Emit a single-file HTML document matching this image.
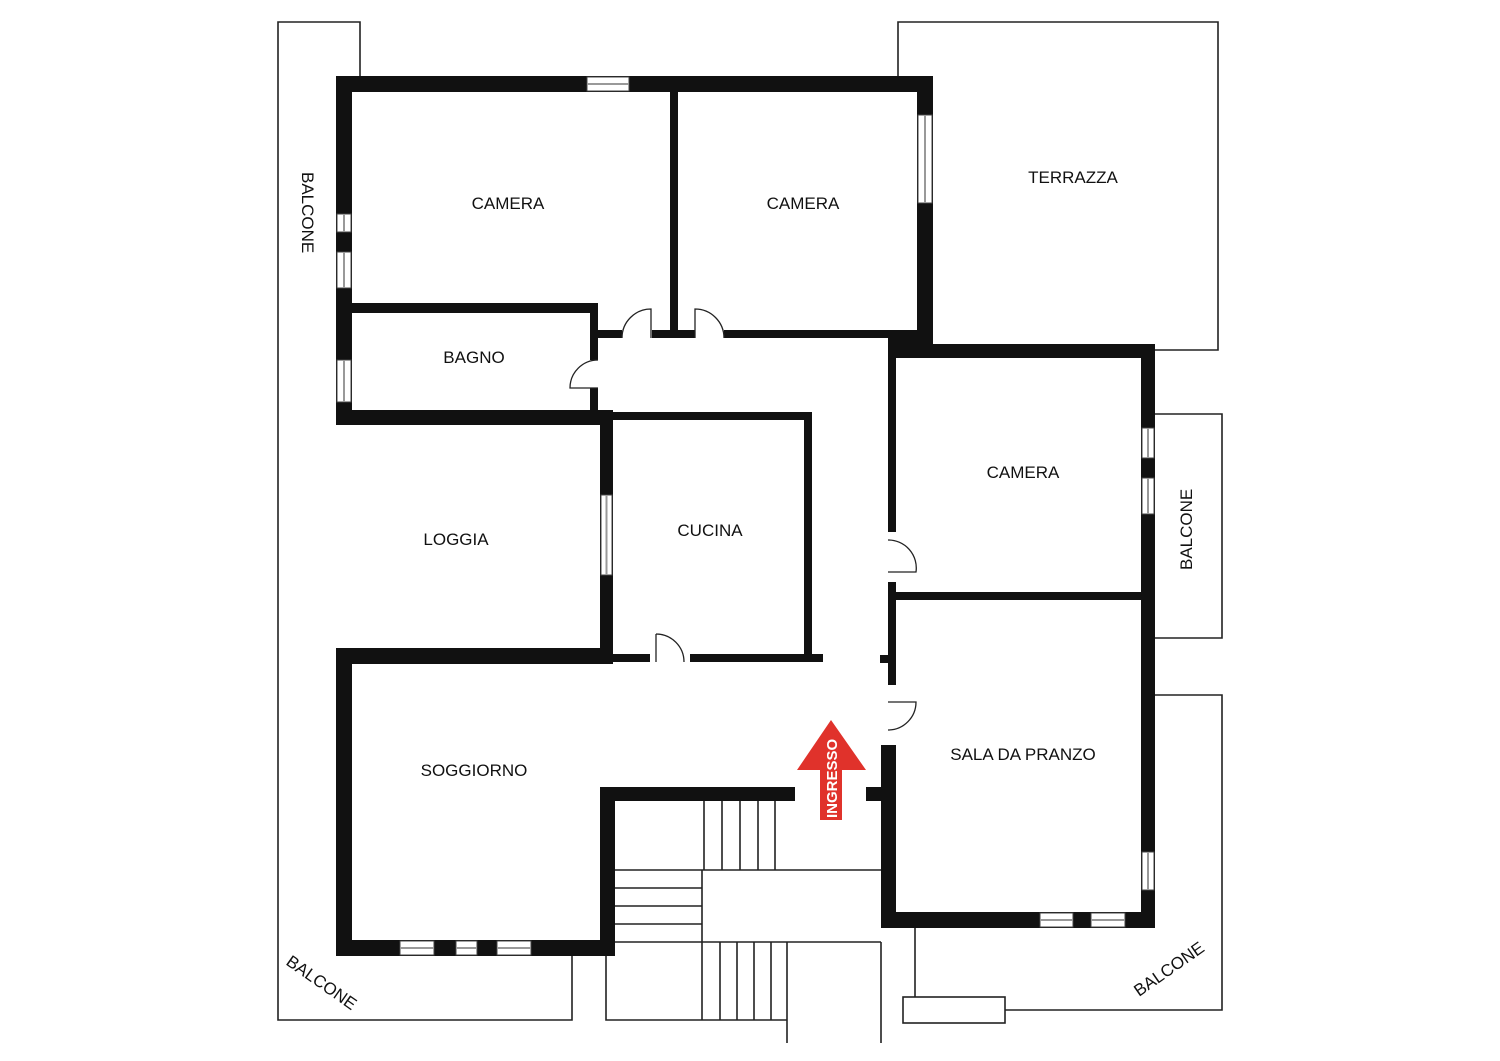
<!DOCTYPE html>
<html><head><meta charset="utf-8"><style>
html,body{margin:0;padding:0;background:#fff;}
svg{display:block}
text{font-family:"Liberation Sans",sans-serif;font-size:17px;fill:#111;}
</style></head><body>
<svg width="1500" height="1061" viewBox="0 0 1500 1061" xmlns="http://www.w3.org/2000/svg">
<rect width="1500" height="1061" fill="#fff"/>
<!-- thin outlines: balconies, terrace, stairs -->
<g fill="none" stroke="#222" stroke-width="1.6">
<polyline points="360,76 360,22 278,22 278,1020 572,1020 572,956"/>
<polyline points="898,76 898,22 1218,22 1218,350 1155,350"/>
<polyline points="1155,414 1222,414 1222,638 1155,638"/>
<polyline points="1155,695 1222,695 1222,1010 1005,1010"/>
<rect x="903" y="997" width="102" height="26"/>
<line x1="915" y1="928" x2="915" y2="997"/>
<!-- stairs -->
<line x1="704" y1="801" x2="704" y2="870"/><line x1="722" y1="801" x2="722" y2="870"/>
<line x1="740" y1="801" x2="740" y2="870"/><line x1="758" y1="801" x2="758" y2="870"/>
<line x1="775" y1="801" x2="775" y2="870"/>
<line x1="615" y1="870" x2="881" y2="870"/>
<line x1="615" y1="888" x2="702" y2="888"/><line x1="615" y1="906" x2="702" y2="906"/>
<line x1="615" y1="924" x2="702" y2="924"/><line x1="615" y1="942" x2="881" y2="942"/>
<line x1="702" y1="870" x2="702" y2="1020"/>
<line x1="720" y1="942" x2="720" y2="1020"/><line x1="737" y1="942" x2="737" y2="1020"/>
<line x1="754" y1="942" x2="754" y2="1020"/><line x1="771" y1="942" x2="771" y2="1020"/>
<line x1="787" y1="942" x2="787" y2="1043"/>
<line x1="881" y1="942" x2="881" y2="1043"/>
<polyline points="606,956 606,1020 787,1020"/>
</g>
<!-- walls -->
<g fill="#111">
<rect x="336" y="76" width="597" height="16"/>
<rect x="336" y="76" width="16" height="349"/>
<rect x="917" y="76" width="16" height="282"/>
<rect x="670" y="92" width="8" height="246"/>
<rect x="352" y="303" width="246" height="10"/>
<rect x="590" y="303" width="8" height="57"/>
<rect x="590" y="388" width="8" height="30"/>
<rect x="336" y="410" width="277" height="15"/>
<rect x="598" y="330" width="24" height="8"/>
<rect x="652" y="330" width="43" height="8"/>
<rect x="724" y="330" width="164" height="8"/>
<rect x="888" y="330" width="45" height="28"/>
<rect x="888" y="344" width="267" height="14"/>
<rect x="1141" y="344" width="14" height="584"/>
<rect x="888" y="338" width="8" height="194"/>
<rect x="888" y="582" width="8" height="103"/>
<rect x="896" y="592" width="245" height="8"/>
<rect x="880" y="655" width="10" height="8"/>
<rect x="881" y="745" width="15" height="183"/>
<rect x="866" y="787" width="16" height="14"/>
<rect x="881" y="912" width="274" height="16"/>
<rect x="598" y="412" width="214" height="8"/>
<rect x="600" y="412" width="13" height="250"/>
<rect x="804" y="412" width="8" height="250"/>
<rect x="598" y="654" width="52" height="8"/>
<rect x="690" y="654" width="133" height="8"/>
<rect x="336" y="648" width="277" height="16"/>
<rect x="336" y="648" width="16" height="308"/>
<rect x="336" y="940" width="279" height="16"/>
<rect x="600" y="787" width="15" height="169"/>
<rect x="600" y="787" width="195" height="14"/>
</g>
<!-- windows -->
<g fill="#fff" stroke="#444" stroke-width="1">
<rect x="587" y="77" width="42" height="14"/><line x1="587" y1="84" x2="629" y2="84" stroke="#999" stroke-width="2"/>
<rect x="918" y="115" width="14" height="88"/><line x1="925" y1="115" x2="925" y2="203" stroke="#999" stroke-width="2"/>
<rect x="337" y="214" width="14" height="18"/><line x1="344" y1="214" x2="344" y2="232" stroke="#999" stroke-width="2"/>
<rect x="337" y="252" width="14" height="36"/><line x1="344" y1="252" x2="344" y2="288" stroke="#999" stroke-width="2"/>
<rect x="337" y="360" width="14" height="42"/><line x1="344" y1="360" x2="344" y2="402" stroke="#999" stroke-width="2"/>
<rect x="601" y="495" width="11" height="80"/><line x1="606.5" y1="495" x2="606.5" y2="575" stroke="#999" stroke-width="2"/>
<rect x="1142" y="428" width="12" height="30"/><line x1="1148" y1="428" x2="1148" y2="458" stroke="#999" stroke-width="2"/>
<rect x="1142" y="478" width="12" height="36"/><line x1="1148" y1="478" x2="1148" y2="514" stroke="#999" stroke-width="2"/>
<rect x="1142" y="852" width="12" height="38"/><line x1="1148" y1="852" x2="1148" y2="890" stroke="#999" stroke-width="2"/>
<rect x="1040" y="913" width="33" height="14"/><line x1="1040" y1="920" x2="1073" y2="920" stroke="#999" stroke-width="2"/>
<rect x="1091" y="913" width="34" height="14"/><line x1="1091" y1="920" x2="1125" y2="920" stroke="#999" stroke-width="2"/>
<rect x="400" y="941" width="34" height="14"/><line x1="400" y1="948" x2="434" y2="948" stroke="#999" stroke-width="2"/>
<rect x="456" y="941" width="21" height="14"/><line x1="456" y1="948" x2="477" y2="948" stroke="#999" stroke-width="2"/>
<rect x="497" y="941" width="34" height="14"/><line x1="497" y1="948" x2="531" y2="948" stroke="#999" stroke-width="2"/>
</g>
<!-- doors -->
<g fill="none" stroke="#222" stroke-width="1.3">
<path d="M651,338 L651,309 A29,29 0 0 0 622,338"/>
<path d="M695,338 L695,309 A29,29 0 0 1 724,338"/>
<path d="M598,360 A28,28 0 0 0 570,388 L598,388"/>
<path d="M888,540 A28,28 0 0 1 916,572 L888,572"/>
<path d="M888,702 L916,702 A28,28 0 0 1 888,730"/>
<path d="M656,634 L656,662 M656,634 A28,28 0 0 1 684,662"/>
</g>
<!-- arrow -->
<polygon points="831,720 866,770 842,770 842,820 820,820 820,770 797,770" fill="#e0322b"/>
<text transform="translate(837,818) rotate(-90)" style="fill:#fff;font-size:15px;font-weight:bold">INGRESSO</text>
<!-- labels -->
<text x="508" y="209" text-anchor="middle">CAMERA</text>
<text x="803" y="209" text-anchor="middle">CAMERA</text>
<text x="1073" y="183" text-anchor="middle">TERRAZZA</text>
<text x="474" y="363" text-anchor="middle">BAGNO</text>
<text x="1023" y="478" text-anchor="middle">CAMERA</text>
<text x="456" y="545" text-anchor="middle">LOGGIA</text>
<text x="710" y="536" text-anchor="middle">CUCINA</text>
<text x="474" y="776" text-anchor="middle">SOGGIORNO</text>
<text x="1023" y="760" text-anchor="middle">SALA DA PRANZO</text>
<text transform="translate(302,172) rotate(90)">BALCONE</text>
<text transform="translate(1192,570) rotate(-90)">BALCONE</text>
<text transform="translate(285,964) rotate(35)">BALCONE</text>
<text transform="translate(1139,997) rotate(-35)">BALCONE</text>
</svg>
</body></html>
